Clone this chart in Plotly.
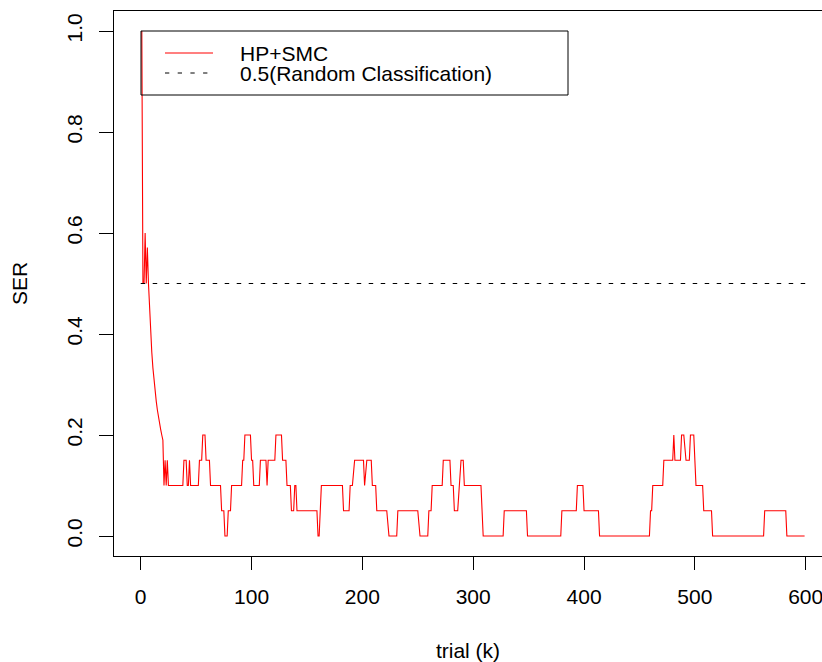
import plotly.graph_objects as go

# ---- data ----
trial_k = [
    1, 2, 3, 4, 5, 6, 7, 8, 9, 10,
    11, 12, 13, 14, 15, 16, 17, 18, 19, 20,
    21, 22, 23, 24, 25, 38, 39, 41, 42, 43,
    44, 45, 52, 53, 55, 56, 58, 59, 62, 63,
    72, 73, 75, 76, 78, 79, 81, 82, 91, 92,
    93, 94, 99, 100, 101, 102, 107, 108, 113, 114,
    115, 121, 122, 127, 128, 131, 132, 135, 136, 138,
    139, 140, 141, 159, 160, 161, 163, 182, 183, 188,
    189, 191, 193, 201, 202, 204, 208, 209, 212, 213,
    222, 224, 231, 232, 250, 252, 259, 260, 262, 263,
    272, 273, 279, 280, 282, 283, 286, 289, 291, 292,
    307, 309, 327, 328, 348, 349, 379, 380, 393, 394,
    399, 400, 413, 414, 459, 460, 461, 462, 471, 472,
    480, 481, 482, 487, 488, 490, 492, 495, 496, 499,
    500, 501, 507, 508, 515, 516, 562, 563, 582, 583,
    599,
]
ser = [
    1.0, 0.5, 0.5, 0.6, 0.5, 0.571, 0.5, 0.444, 0.4, 0.364,
    0.333, 0.308, 0.286, 0.267, 0.25, 0.235, 0.222, 0.211, 0.2, 0.19,
    0.1, 0.15, 0.1, 0.15, 0.1, 0.1, 0.15, 0.15, 0.1, 0.1,
    0.15, 0.1, 0.1, 0.15, 0.15, 0.2, 0.2, 0.15, 0.15, 0.1,
    0.1, 0.05, 0.05, 0.0, 0.0, 0.05, 0.05, 0.1, 0.1, 0.15,
    0.15, 0.2, 0.2, 0.15, 0.15, 0.1, 0.1, 0.15, 0.15, 0.1,
    0.15, 0.15, 0.2, 0.2, 0.15, 0.15, 0.1, 0.1, 0.05, 0.05,
    0.1, 0.1, 0.05, 0.05, 0.0, 0.0, 0.1, 0.1, 0.05, 0.05,
    0.1, 0.1, 0.15, 0.15, 0.1, 0.15, 0.15, 0.1, 0.1, 0.05,
    0.05, 0.0, 0.0, 0.05, 0.05, 0.0, 0.0, 0.05, 0.05, 0.1,
    0.1, 0.15, 0.15, 0.1, 0.1, 0.05, 0.05, 0.15, 0.15, 0.1,
    0.1, 0.0, 0.0, 0.05, 0.05, 0.0, 0.0, 0.05, 0.05, 0.1,
    0.1, 0.05, 0.05, 0.0, 0.0, 0.05, 0.05, 0.1, 0.1, 0.15,
    0.15, 0.2, 0.15, 0.15, 0.2, 0.2, 0.15, 0.15, 0.2, 0.2,
    0.15, 0.1, 0.1, 0.05, 0.05, 0.0, 0.0, 0.05, 0.05, 0.0,
    0.0,
]
random_k = [0, 600]
random_ser = [0.5, 0.5]

x_ticks = [0, 100, 200, 300, 400, 500, 600]
y_ticks = [0.0, 0.2, 0.4, 0.6, 0.8, 1.0]
y_tick_text = ["0.0", "0.2", "0.4", "0.6", "0.8", "1.0"]
legend_labels = ["HP+SMC", "0.5(Random Classification)"]

# ---- layout geometry (pixels) ----
W, H = 822, 662
L, R, T, B = 114, 822, 11, 556
FONT = "Liberation Sans, Arial, Helvetica, sans-serif"
FS = 21
DASH = "4.5px,7.5px"


def px(x):
    return (x - L) / (R - L)


def py(y):
    return (B - y) / (B - T)


fig = go.Figure()
fig.add_trace(go.Scatter(x=trial_k, y=ser, mode="lines",
                         line=dict(color="#ff0000", width=1.1),
                         name=legend_labels[0], showlegend=False))
fig.add_trace(go.Scatter(x=random_k, y=random_ser, mode="lines",
                         line=dict(color="#000000", width=1, dash=DASH),
                         name=legend_labels[1], showlegend=False))

# manual R-style legend
shapes = [
    dict(type="rect", xref="paper", yref="paper",
         x0=px(141), x1=px(568), y0=py(95), y1=py(31),
         line=dict(color="#000000", width=1), fillcolor="rgba(0,0,0,0)"),
    dict(type="line", xref="paper", yref="paper",
         x0=px(165), x1=px(213), y0=py(53), y1=py(53),
         line=dict(color="#ff0000", width=1.1)),
    dict(type="line", xref="paper", yref="paper",
         x0=px(165), x1=px(213), y0=py(73), y1=py(73),
         line=dict(color="#000000", width=1, dash="4.3px,8.4px")),
]
annotations = [
    dict(text=legend_labels[0], xref="paper", yref="paper",
         x=px(238), y=py(53), xanchor="left", yanchor="middle",
         showarrow=False, font=dict(family=FONT, size=FS, color="#000")),
    dict(text=legend_labels[1], xref="paper", yref="paper",
         x=px(238), y=py(73), xanchor="left", yanchor="middle",
         showarrow=False, font=dict(family=FONT, size=FS, color="#000")),
]

fig.update_layout(
    width=W, height=H,
    margin=dict(l=L, r=W - R, t=T, b=H - B, pad=0),
    paper_bgcolor="white", plot_bgcolor="white",
    font=dict(family=FONT, size=FS, color="#000000"),
    shapes=shapes, annotations=annotations,
    showlegend=False,
)
fig.update_xaxes(
    range=[-24.1, 614.7], tickvals=x_ticks, ticks="outside", ticklen=13,
    tickwidth=1, tickcolor="#000", showline=True, linecolor="#000",
    linewidth=1, mirror=True, showgrid=False, zeroline=False,
    ticklabelstandoff=9, ticklabeloverflow="allow",
    title=dict(text="trial (k)", standoff=36, font=dict(size=FS)),
    automargin=False,
)
fig.update_yaxes(
    range=[-0.0396, 1.0396], tickvals=y_ticks, ticktext=y_tick_text,
    tickangle=-90, ticks="outside", ticklen=14, tickwidth=1,
    tickcolor="#000", showline=True, linecolor="#000", linewidth=1,
    mirror=False, showgrid=False, zeroline=False,
    ticklabelstandoff=9,
    title=dict(text="SER", standoff=29, font=dict(size=FS)),
    automargin=False,
)

fig.write_html("out.html")
